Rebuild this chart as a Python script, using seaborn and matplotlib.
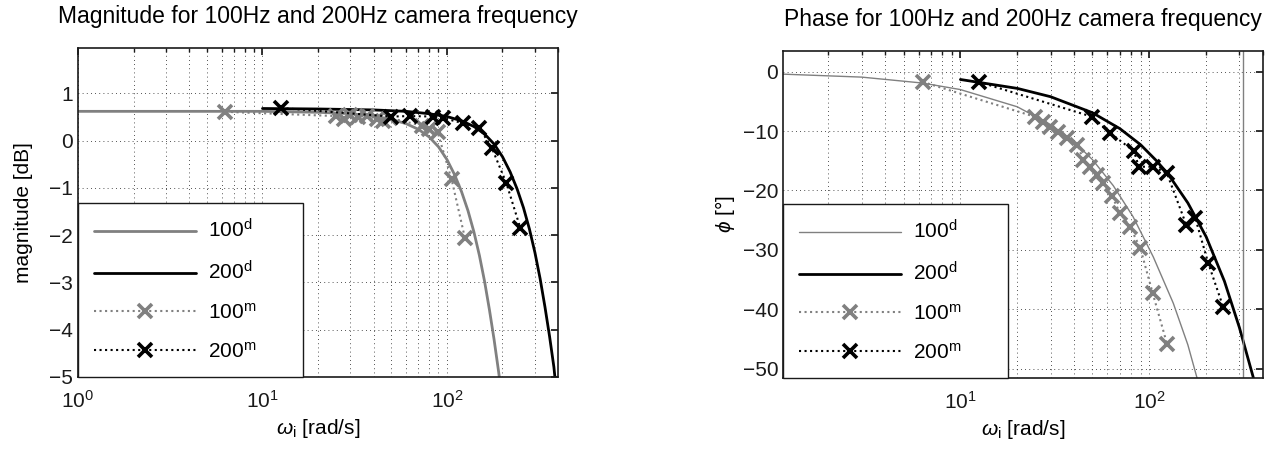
import numpy as np
import pandas as pd
import matplotlib
matplotlib.use("Agg")
import matplotlib.pyplot as plt
from matplotlib.lines import Line2D
import seaborn as sns

# ---------------- data ----------------
# Magnitude, 100 Hz model (d)
mag_w_100d = [1, 5, 10, 20, 30, 40, 50, 60, 70, 80, 90, 100, 110, 120, 130, 140, 150, 160, 170, 180, 190, 193]
mag_100d = [0.62, 0.62, 0.62, 0.60, 0.57, 0.52, 0.45, 0.36, 0.24, 0.08, -0.13, -0.40, -0.72, -1.08, -1.48,
            -1.93, -2.43, -2.98, -3.58, -4.20, -4.85, -5.05]
# Magnitude, 200 Hz model (d)
mag_w_200d = [10, 20, 40, 60, 80, 100, 120, 140, 160, 180, 200, 220, 240, 260, 280, 300, 320, 340, 360, 380, 386]
mag_200d = [0.68, 0.67, 0.65, 0.62, 0.57, 0.51, 0.42, 0.30, 0.14, -0.07, -0.34, -0.66, -1.02, -1.42, -1.87,
            -2.37, -2.92, -3.52, -4.14, -4.79, -5.05]
# Magnitude, 100 Hz measured (m)
mag_w_100m = [6.3, 25, 27.5, 30, 33, 36.7, 41.6, 45, 49, 73, 80, 89, 106, 125]
mag_100m = [0.61, 0.52, 0.45, 0.55, 0.50, 0.53, 0.46, 0.42, 0.48, 0.32, 0.25, 0.18, -0.82, -2.05]
# Magnitude, 200 Hz measured (m)
mag_w_200m = [12.6, 50, 62.7, 84, 95, 122, 150, 175, 210, 250]
mag_200m = [0.69, 0.51, 0.52, 0.51, 0.48, 0.37, 0.27, -0.15, -0.90, -1.85]

# Phase, 100 Hz model (d)
ph_w_100d = [1.15, 3, 6.3, 10, 20, 30, 40, 50, 64.5, 82, 105, 134, 160, 179]
ph_100d = [-0.4, -0.9, -1.9, -3.0, -5.9, -8.9, -11.8, -14.8, -19.2, -24.4, -31.2, -39.0, -46.0, -51.6]
# Phase, 200 Hz model (d)
ph_w_200d = [10, 20, 30, 50, 70, 90, 110, 130, 160, 200, 250, 300, 356]
ph_200d = [-1.3, -2.8, -4.2, -6.9, -9.6, -12.3, -15.1, -17.9, -22.1, -27.8, -35.3, -43.1, -51.6]
# Phase, 100 Hz measured (m)
ph_w_100m = [6.3, 24.9, 27.5, 29.9, 33.0, 36.7, 41.6, 44.7, 48.7, 53, 57, 63.6, 69.9, 79, 89.6, 104, 124]
ph_100m = [-1.7, -7.6, -8.4, -9.3, -10.1, -11.1, -12.3, -14.8, -16.0, -17.4, -18.7, -21.0, -23.8, -26.1,
           -29.7, -37.2, -45.8]
# Phase, 200 Hz measured (m)
ph_w_200m = [12.5, 50, 62, 83, 88, 105, 124, 157, 175, 205, 246]
ph_200m = [-1.7, -7.6, -10.3, -13.4, -16.0, -16.0, -17.1, -25.8, -24.6, -32.2, -39.6]

nyquist_100 = 314.16
labels = ["100$^{\\mathrm{d}}$", "200$^{\\mathrm{d}}$", "100$^{\\mathrm{m}}$", "200$^{\\mathrm{m}}$"]
titles = ["Magnitude for 100Hz and 200Hz camera frequency", "Phase for 100Hz and 200Hz camera frequency"]

# ---------------- style ----------------
sns.set_theme(style="white")
plt.rcParams["font.family"] = ["Liberation Sans", "DejaVu Sans"]
plt.rcParams["mathtext.fontset"] = "custom"
plt.rcParams["mathtext.rm"] = "Liberation Sans"
plt.rcParams["mathtext.it"] = "Liberation Sans:italic"
plt.rcParams["mathtext.sf"] = "Liberation Sans"
plt.rcParams["text.color"] = "black"
plt.rcParams["axes.labelcolor"] = "black"
plt.rcParams["xtick.color"] = "black"
plt.rcParams["ytick.color"] = "black"

GREY = "#808080"
BLACK = "#000000"
FS = 15
TFS = 16.5

fig = plt.figure(figsize=(12.74, 4.51), dpi=100)
ax1 = fig.add_axes([78 / 1274, 1 - 377 / 451, 480 / 1274, 329 / 451])
ax2 = fig.add_axes([783 / 1274, 1 - 378 / 451, 480 / 1274, 327 / 451])


def draw(ax, wd1, yd1, wd2, yd2, wm1, ym1, wm2, ym2, lw100):
    sns.lineplot(x=wd1, y=yd1, ax=ax, color=GREY, lw=lw100, sort=False, estimator=None)
    sns.lineplot(x=wd2, y=yd2, ax=ax, color=BLACK, lw=2.0, sort=False, estimator=None)
    sns.lineplot(x=wm1, y=ym1, ax=ax, color=GREY, lw=1.5, ls=":", marker="x", markersize=10,
                 markeredgewidth=2.6, markeredgecolor=GREY, sort=False, estimator=None)
    sns.lineplot(x=wm2, y=ym2, ax=ax, color=BLACK, lw=1.5, ls=":", marker="x", markersize=10,
                 markeredgewidth=2.6, markeredgecolor=BLACK, sort=False, estimator=None)
    ax.set_xscale("log")
    ax.grid(True, which="major", axis="both", color="k", ls=(0, (1, 4)), lw=0.6)
    ax.grid(True, which="minor", axis="x", color="k", ls=(0, (1, 4)), lw=0.6)
    ax.tick_params(which="both", direction="in", top=True, right=True, labelsize=FS, colors="k")
    ax.tick_params(which="major", length=5)
    ax.tick_params(which="minor", length=3)
    ax.tick_params(axis="x", which="major", pad=9)
    for s in ax.spines.values():
        s.set_color("k")
        s.set_linewidth(1.2)
    handles = [
        Line2D([], [], color=GREY, lw=lw100),
        Line2D([], [], color=BLACK, lw=2.0),
        Line2D([], [], color=GREY, lw=1.5, ls=":", marker="x", markersize=10, markeredgewidth=2.6),
        Line2D([], [], color=BLACK, lw=1.5, ls=":", marker="x", markersize=10, markeredgewidth=2.6),
    ]
    padded = [lab + "      " for lab in labels]
    leg = ax.legend(handles, padded, loc="lower left", borderaxespad=0, fontsize=FS,
                    frameon=True, fancybox=False, edgecolor="k", handlelength=4.9,
                    borderpad=0.75, labelspacing=0.9, handletextpad=0.6)
    leg.get_frame().set_linewidth(1.0)
    leg.get_frame().set_alpha(1)


draw(ax1, mag_w_100d, mag_100d, mag_w_200d, mag_200d, mag_w_100m, mag_100m, mag_w_200m, mag_200m, 2.0)
ax1.set_xlim(1, 400)
ax1.set_ylim(-5, 1.96)
ax1.set_yticks([-5, -4, -3, -2, -1, 0, 1])
ax1.set_xticks([1, 10, 100])
ax1.set_xlabel("$\\omega_{\\mathrm{i}}$ [rad/s]", fontsize=FS, labelpad=4)
ax1.set_ylabel("magnitude [dB]", fontsize=FS, labelpad=12)
ax1.set_title(titles[0], fontsize=TFS, pad=18)

draw(ax2, ph_w_100d, ph_100d, ph_w_200d, ph_200d, ph_w_100m, ph_100m, ph_w_200m, ph_200m, 1.0)
ax2.axvline(nyquist_100, color=GREY, lw=1.0)
ax2.set_xlim(1.15, 400)
ax2.set_ylim(-51.6, 3.5)
ax2.set_yticks([-50, -40, -30, -20, -10, 0])
ax2.set_xticks([10, 100])
ax2.set_xlabel("$\\omega_{\\mathrm{i}}$ [rad/s]", fontsize=FS, labelpad=4)
ax2.set_ylabel("$\\phi$ [°]", fontsize=FS, labelpad=4)
ax2.set_title(titles[1], fontsize=TFS, pad=18)

fig.savefig("out.png", dpi=100)
